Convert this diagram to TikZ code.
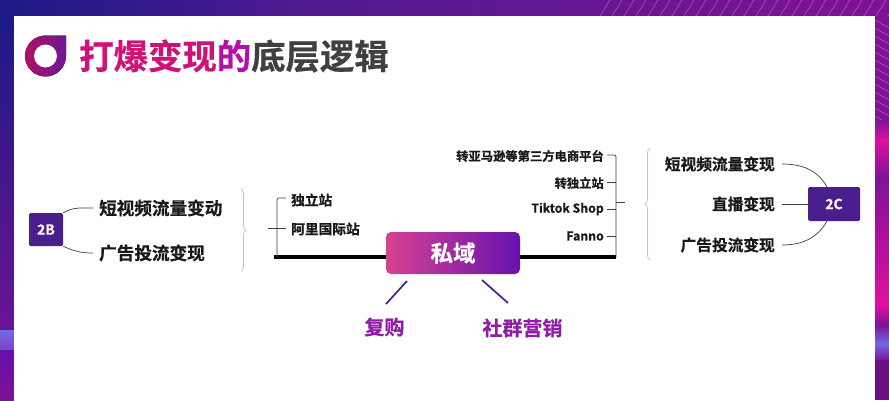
\documentclass[tikz,border=0pt]{standalone}
\usepackage{fontspec}
\setmainfont{Noto Sans CJK SC}[BoldFont={* Bold},BoldFeatures={FakeBold=0.5}]
\usetikzlibrary{positioning,decorations.pathreplacing}
\definecolor{deepblue}{HTML}{1B1A84}
\definecolor{midpurple}{HTML}{4F1A90}
\definecolor{stripbase}{HTML}{7E1298}
\definecolor{hotpink}{HTML}{E0109F}
\definecolor{paleblue}{HTML}{7468E8}
\definecolor{boxpurple}{HTML}{4A1E8C}
\definecolor{titlepink}{HTML}{CE1277}
\definecolor{titlepurple}{HTML}{B410A8}
\definecolor{labelpurple}{HTML}{8E1EA6}
\definecolor{bracepink}{HTML}{D9B8B4}
\tikzset{
  tag/.style={fill=boxpurple,rounded corners=1.5pt,text=white!88!pink,font=\bfseries\fontsize{14}{15}\selectfont,inner sep=0pt},
  bigl/.style={font=\bfseries\fontsize{17.6}{18}\selectfont,text=black!90,inner sep=0pt},
  bigr/.style={font=\bfseries\fontsize{15.7}{16}\selectfont,text=black!90,inner sep=0pt},
  smalll/.style={font=\bfseries\fontsize{13.7}{14}\selectfont,text=black!90,inner sep=0pt},
  smallr/.style={font=\bfseries\fontsize{12.3}{13}\selectfont,text=black!90,inner sep=0pt},
  buy/.style={font=\bfseries\fontsize{20}{21}\selectfont,text=labelpurple,inner sep=0pt},
  wire/.style={black!75,line width=0.7pt},
  rail/.style={black,line width=3.4pt},
  slash/.style={boxpurple,line width=1.7pt},
  curly/.style={bracepink,line width=0.7pt},
}
\begin{document}
\begin{tikzpicture}[x=1pt,y=-1pt]
\useasboundingbox (0,0) rectangle (889,400);

% frame
\fill[left color=deepblue,right color=midpurple] (0,0) rectangle (300,16);
\fill[left color=midpurple,right color=stripbase] (300,0) rectangle (889,16);
\fill[top color=deepblue,bottom color=stripbase!80!deepblue] (0,16) rectangle (14,330);
\fill[top color=paleblue,bottom color=paleblue!60!stripbase] (0,330) rectangle (14,350);
\fill[top color=stripbase!80!blue,bottom color=stripbase] (0,350) rectangle (14,400);
\fill[stripbase] (875,16) rectangle (889,120);
\fill[top color=stripbase,bottom color=hotpink] (875,120) rectangle (889,140);
\fill[top color=hotpink,bottom color=stripbase] (875,140) rectangle (889,178);
\fill[top color=stripbase,bottom color=hotpink] (875,178) rectangle (889,305);
\fill[top color=hotpink,bottom color=stripbase] (875,305) rectangle (889,325);
\fill[top color=stripbase,bottom color=paleblue] (875,325) rectangle (889,344);
\fill[top color=paleblue,bottom color=stripbase] (875,344) rectangle (889,360);
\fill[stripbase!85!black] (875,360) rectangle (889,400);
\begin{scope}
  \clip (590,0) rectangle (889,16) (875,16) rectangle (889,120);
  \foreach \x in {600,612,...,890}
    \draw[hotpink!60!white,line width=0.5pt,opacity=0.7] (\x,16) -- (\x+10,0);
  \foreach \y in {20,28,...,120}
    \draw[hotpink!60!white,line width=0.5pt,opacity=0.7] (875,\y) -- (889,\y+8);
\end{scope}
\fill[white] (14,16) rectangle (875,400);

% title
\fill[left color=titlepink!85!black,right color=boxpurple!70!titlepurple]
  (66,35.5) -- (66,56) arc (0:270:20.5) -- cycle;
\fill[white] (45.5,56) circle (11.5);
\node[anchor=west,inner sep=0pt,font=\bfseries\fontsize{34.4}{36}\selectfont] (title) at (79,56)
  {\textcolor{titlepink}{打爆变现}\textcolor{titlepurple}{的}\textcolor{black!75}{底层逻辑}};

% left part
\node[tag,minimum width=34pt,minimum height=33pt] (tb) at (46,229.5) {2B};
\node[bigl,anchor=west] (tbone) at (99,208) {短视频流量变动};
\node[bigl,anchor=west] (tbtwo) at (99,253) {广告投流变现};
\coordinate[left=6pt of tbone.west] (tboneend);
\coordinate[left=6pt of tbtwo.west] (tbtwoend);
\draw[wire] (tb.north east) to[out=30,in=180] (tboneend);
\draw[wire] (tb.south east) to[out=-25,in=180] (tbtwoend);
\draw[curly,decorate,decoration={brace,amplitude=5pt}] (241,189) -- (241,271);

\node[smalll,anchor=west] (duli) at (291,200) {独立站};
\node[smalll,anchor=west] (ali) at (291,229) {阿里国际站};

% center
\node[minimum width=134pt,minimum height=42pt,rounded corners=5pt,inner sep=0pt,
  left color=titlepink!80!white,right color=boxpurple!50!titlepurple!80!blue,text=white,
  font=\bfseries\fontsize{22.5}{24}\selectfont] (sy) at (453,253) {私域};
\coordinate (railleft) at (274,257);
\coordinate (railright) at (616,257);
\draw[rail] (railleft) -- (railleft -| sy.west);
\draw[rail] (railright -| sy.east) -- (railright);
\coordinate (duliend) at (286,198);
\coordinate (aliend) at (286,228);
\coordinate (alitick) at (268,228);
\draw[wire,rounded corners=2pt] (duliend) -- (277,198) -- (277,257);
\draw[wire] (alitick) -- (aliend);

\node[buy] (fg) at (384.5,327) {复购};
\node[buy] (sq) at (522.5,328) {社群营销};
\coordinate (fgtop) at (386,304);
\coordinate (fgsy) at (407,281);
\coordinate (sqtop) at (508,303);
\coordinate (sqsy) at (482,280);
\draw[slash] (fgsy) -- (fgtop);
\draw[slash] (sqsy) -- (sqtop);

% right list
\node[smallr,anchor=east] (amz) at (604,156) {转亚马逊等第三方电商平台};
\node[smallr,anchor=east] (zd) at (604,183) {转独立站};
\node[smallr,anchor=east] (tk) at (604,209) {Tiktok Shop};
\node[smallr,anchor=east] (fn) at (604,236) {Fanno};
\coordinate (amzstart) at (607,155);
\coordinate (zdstart) at (607,182);
\coordinate (tkstart) at (607,209);
\coordinate (fnstart) at (607,236);
\coordinate (zdend) at (616,182);
\coordinate (tkend) at (616,209);
\coordinate (fnend) at (616,236);
\coordinate (tickstart) at (616,202);
\coordinate (tick) at (625,202);
\draw[wire,rounded corners=2pt] (amzstart) -- (616,155) -- (railright);
\draw[wire] (zdstart) -- (zdend);
\draw[wire] (tkstart) -- (tkend);
\draw[wire] (fnstart) -- (fnend);
\draw[wire] (tickstart) -- (tick);
\draw[curly,decorate,decoration={brace,amplitude=5pt,mirror}] (650,148) -- (650,260);

% right part
\node[tag,minimum width=52pt,minimum height=34pt] (tc) at (834,204) {2C};
\node[bigr,anchor=east] (tcone) at (775,164) {短视频流量变现};
\node[bigr,anchor=east] (tctwo) at (775,204) {直播变现};
\node[bigr,anchor=east] (tcthree) at (775,245) {广告投流变现};
\coordinate[right=7pt of tcone.east] (tconeend);
\coordinate[right=7pt of tctwo.east] (tctwoend);
\coordinate[right=7pt of tcthree.east] (tcthreeend);
\draw[wire] (tconeend) to[out=0,in=120] ([xshift=-7pt]tc.north);
\draw[wire] (tctwoend) -- (tc.west);
\draw[wire] (tcthreeend) to[out=0,in=-120] ([xshift=-7pt]tc.south);
\end{tikzpicture}
\end{document}
